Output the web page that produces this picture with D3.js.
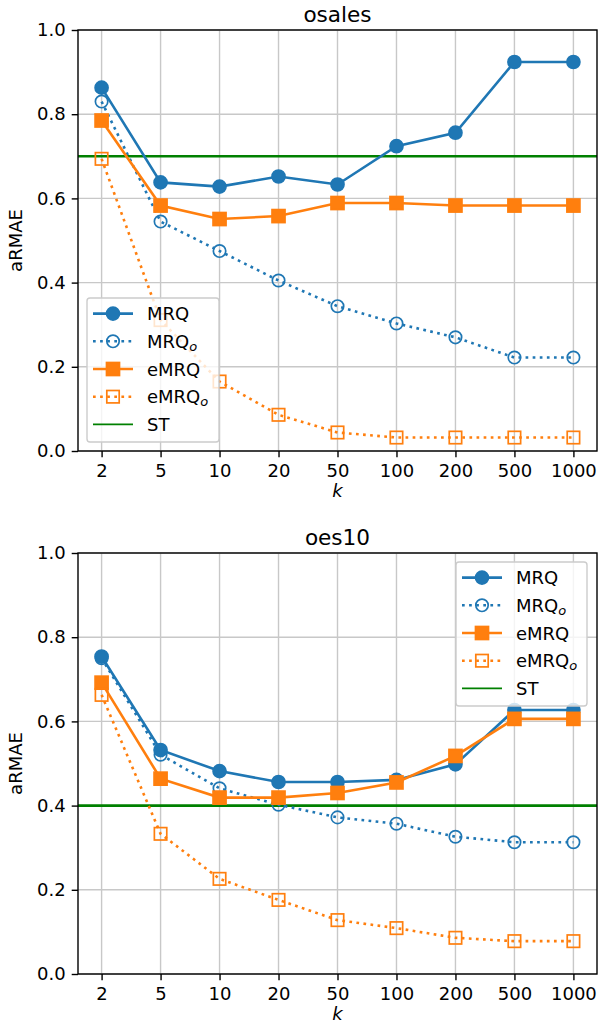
<!DOCTYPE html>
<html>
<head>
<meta charset="utf-8">
<script src="https://cdn.jsdelivr.net/npm/d3@7"></script>
<style>
  body { margin: 0; background: #fff; }
  svg { font-family: "DejaVu Sans", sans-serif; }
</style>
</head>
<body>
<div id="chart"></div>
<script>
// k values shown on the x axis (categorical)
const kLabels = ["2", "5", "10", "20", "50", "100", "200", "500", "1000"];
const yTicks = [0, 0.2, 0.4, 0.6, 0.8, 1.0];

// osales panel
const osalesMRQ   = [0.863, 0.638, 0.628, 0.652, 0.633, 0.724, 0.756, 0.924, 0.924];
const osalesMRQo  = [0.830, 0.545, 0.475, 0.405, 0.344, 0.303, 0.270, 0.222, 0.222];
const osalesEMRQ  = [0.785, 0.583, 0.551, 0.558, 0.589, 0.589, 0.583, 0.583, 0.583];
const osalesEMRQo = [0.694, 0.311, 0.165, 0.086, 0.044, 0.032, 0.032, 0.032, 0.032];
const osalesST = 0.70;

// oes10 panel
const oes10MRQ   = [0.754, 0.532, 0.482, 0.456, 0.456, 0.461, 0.498, 0.627, 0.627];
const oes10MRQo  = [0.750, 0.521, 0.441, 0.402, 0.372, 0.357, 0.326, 0.313, 0.313];
const oes10EMRQ  = [0.692, 0.464, 0.419, 0.419, 0.430, 0.455, 0.518, 0.606, 0.606];
const oes10EMRQo = [0.663, 0.333, 0.226, 0.176, 0.128, 0.109, 0.086, 0.078, 0.078];
const oes10ST = 0.40;

const BLUE = "#1f77b4", ORANGE = "#ff7f0e", GREEN = "#008000";
const LW = 2.6;           // series line width
const DOTS = "2.7,4.4";   // matplotlib ':' style

const W = 611, H = 1026;
const svg = d3.select("#chart").append("svg")
  .attr("width", W).attr("height", H);

// series styling (legend order)
function seriesDefs(mrq, mrqo, emrq, emrqo) {
  return [
    { name: "MRQ",  sub: null, values: mrq,   color: BLUE,   dotted: false, shape: "circle", filled: true },
    { name: "MRQ",  sub: "o",  values: mrqo,  color: BLUE,   dotted: true,  shape: "circle", filled: false },
    { name: "eMRQ", sub: null, values: emrq,  color: ORANGE, dotted: false, shape: "square", filled: true },
    { name: "eMRQ", sub: "o",  values: emrqo, color: ORANGE, dotted: true,  shape: "square", filled: false }
  ];
}

function drawMarker(sel, s, cx, cy) {
  const size = s.filled ? 13 : 12.4;
  if (s.shape === "circle") {
    sel.append("circle")
      .attr("cx", cx).attr("cy", cy).attr("r", size / 2)
      .attr("fill", s.filled ? s.color : "none")
      .attr("stroke", s.color).attr("stroke-width", 1.7);
  } else {
    sel.append("rect")
      .attr("x", cx - size / 2).attr("y", cy - size / 2)
      .attr("width", size).attr("height", size)
      .attr("fill", s.filled ? s.color : "none")
      .attr("stroke", s.color).attr("stroke-width", 1.7);
  }
}

function drawPanel(opt) {
  const x = d3.scalePoint().domain(kLabels).range([opt.left, opt.right]).padding(0.4);
  const y = d3.scaleLinear().domain([0, 1]).range([opt.bottom, opt.top]);
  const g = svg.append("g");

  // grid
  g.selectAll(".vgrid").data(kLabels).enter().append("line")
    .attr("x1", d => x(d)).attr("x2", d => x(d))
    .attr("y1", opt.top).attr("y2", opt.bottom)
    .attr("stroke", "#c8c8c8").attr("stroke-width", 1.4);
  g.selectAll(".hgrid").data(yTicks).enter().append("line")
    .attr("x1", opt.left).attr("x2", opt.right)
    .attr("y1", d => y(d)).attr("y2", d => y(d))
    .attr("stroke", "#c8c8c8").attr("stroke-width", 1.4);

  // axes
  const xAxis = g.append("g").attr("transform", `translate(0,${opt.bottom})`)
    .call(d3.axisBottom(x).tickSize(6.3).tickPadding(6));
  const yAxis = g.append("g").attr("transform", `translate(${opt.left},0)`)
    .call(d3.axisLeft(y).tickValues(yTicks).tickFormat(d3.format(".1f")).tickSize(6.3).tickPadding(6));
  [xAxis, yAxis].forEach(a => {
    a.select(".domain").remove();
    a.selectAll("line").attr("stroke", "#000").attr("stroke-width", 1.4);
    a.selectAll("text").attr("fill", "#000").style("font-size", "18px")
      .style("font-family", "DejaVu Sans");
  });
  xAxis.selectAll("text").attr("dy", "0.75em");

  // ST line
  g.append("line")
    .attr("x1", opt.left).attr("x2", opt.right)
    .attr("y1", y(opt.st)).attr("y2", y(opt.st))
    .attr("stroke", GREEN).attr("stroke-width", LW);

  // series
  const line = d3.line().x((d, i) => x(kLabels[i])).y(d => y(d));
  opt.series.forEach(s => {
    g.append("path").datum(s.values)
      .attr("d", line).attr("fill", "none")
      .attr("stroke", s.color).attr("stroke-width", LW)
      .attr("stroke-dasharray", s.dotted ? DOTS : null);
    s.values.forEach((v, i) => drawMarker(g, s, x(kLabels[i]), y(v)));
  });

  // spines
  g.append("rect")
    .attr("x", opt.left).attr("y", opt.top)
    .attr("width", opt.right - opt.left).attr("height", opt.bottom - opt.top)
    .attr("fill", "none").attr("stroke", "#000").attr("stroke-width", 1.4);

  // title and labels
  g.append("text").attr("x", (opt.left + opt.right) / 2).attr("y", opt.top - 8.5)
    .attr("text-anchor", "middle").style("font-size", "21.6px").text(opt.title);
  g.append("text").attr("x", (opt.left + opt.right) / 2).attr("y", opt.bottom + 46)
    .attr("text-anchor", "middle").style("font-size", "18px").style("font-style", "italic").text("k");
  g.append("text")
    .attr("transform", `translate(${opt.left - 56},${(opt.top + opt.bottom) / 2}) rotate(-90)`)
    .attr("text-anchor", "middle").style("font-size", "18px").text("aRMAE");

  // legend
  const L = opt.legend;
  const lg = g.append("g").attr("transform", `translate(${L.x},${L.y})`);
  lg.append("rect").attr("width", L.w).attr("height", 144).attr("rx", 3)
    .attr("fill", "#fff").attr("fill-opacity", 0.8)
    .attr("stroke", "#cccccc").attr("stroke-width", 1.4);
  const entries = opt.series.concat([{ name: "ST", sub: null, color: GREEN, dotted: false, shape: null }]);
  entries.forEach((s, i) => {
    const ry = 15.6 + i * 27.7;
    lg.append("line").attr("x1", 6).attr("x2", 46).attr("y1", ry).attr("y2", ry)
      .attr("stroke", s.color).attr("stroke-width", s.shape ? LW : 1.7)
      .attr("stroke-dasharray", s.dotted ? DOTS : null);
    if (s.shape) drawMarker(lg, s, 26, ry);
    const t = lg.append("text").attr("x", 60).attr("y", ry + 6.5).style("font-size", "18px");
    t.append("tspan").text(s.name);
    if (s.sub) t.append("tspan").attr("dy", 3).style("font-size", "13px")
      .style("font-style", "italic").text(s.sub);
  });
}

drawPanel({
  title: "osales", left: 78, right: 597, top: 30, bottom: 451, st: osalesST,
  series: seriesDefs(osalesMRQ, osalesMRQo, osalesEMRQ, osalesEMRQo),
  legend: { x: 87, y: 298, w: 132 }
});
drawPanel({
  title: "oes10", left: 78, right: 597, top: 553, bottom: 974, st: oes10ST,
  series: seriesDefs(oes10MRQ, oes10MRQo, oes10EMRQ, oes10EMRQo),
  legend: { x: 456, y: 562, w: 131 }
});
</script>
</body>
</html>
